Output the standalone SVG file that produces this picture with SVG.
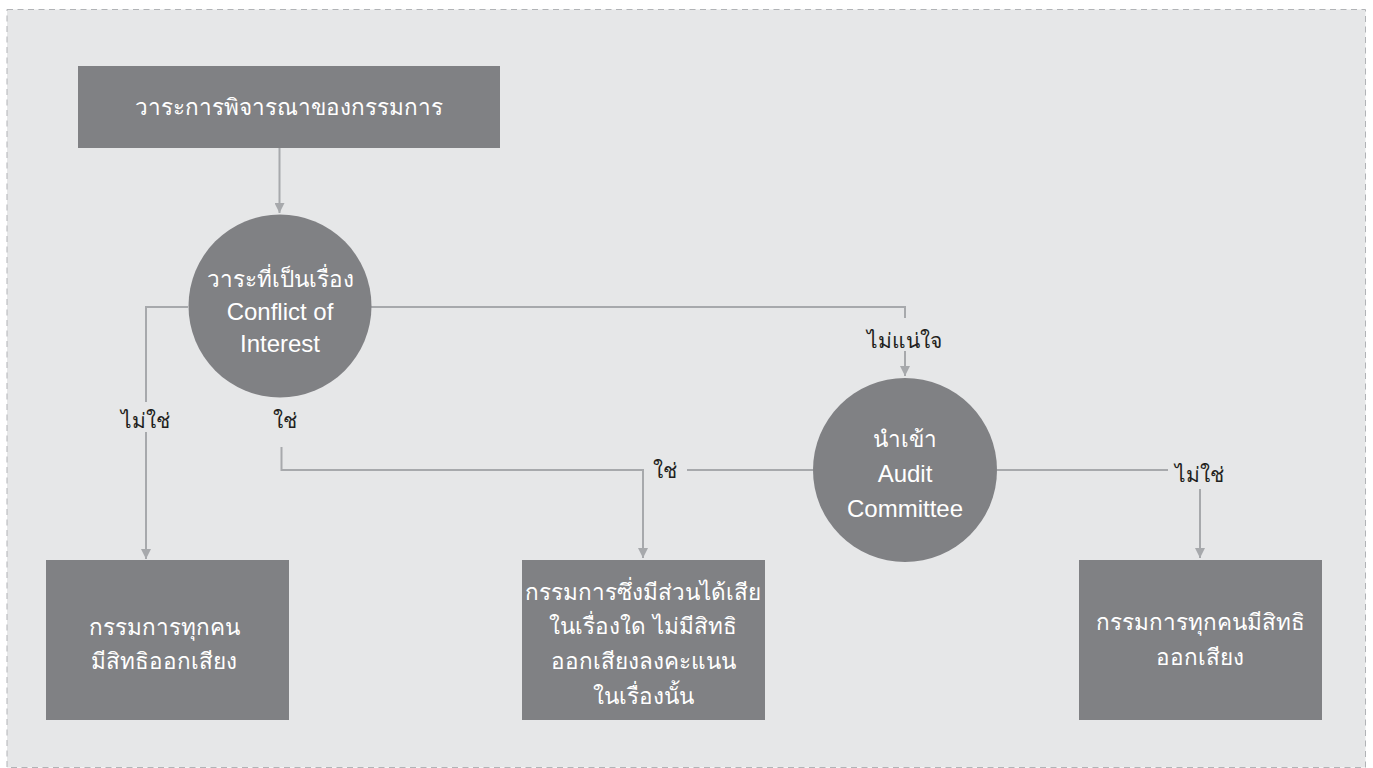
<svg xmlns="http://www.w3.org/2000/svg" width="1373" height="768" viewBox="0 0 1373 768">
<defs>
<style>
.box{fill:#808184;}
.t{font-family:"Liberation Sans","Noto Sans",sans-serif;font-size:22.5px;fill:#ffffff;text-anchor:middle;}
.en{font-size:24px;}
.lbl{font-family:"Liberation Sans","Noto Sans",sans-serif;font-size:21px;fill:#231f20;text-anchor:middle;}
.ln{fill:none;stroke:#a7a9ac;stroke-width:2;}
</style>
<marker id="ah" viewBox="0 0 10 10" refX="10" refY="5" markerWidth="10" markerHeight="10" markerUnits="userSpaceOnUse" orient="auto">
<path d="M0,0 L10,5 L0,10 z" fill="#a7a9ac"/>
</marker>
</defs>
<rect x="0" y="0" width="1373" height="768" fill="#ffffff"/>
<rect x="7" y="9.5" width="1358.5" height="758" fill="#e6e7e8" stroke="#b1b3b6" stroke-width="1" stroke-dasharray="6,4.5"/>
<g id="connectors">
<path class="ln" d="M279.5,138 L279.5,213" marker-end="url(#ah)"/>
<path class="ln" d="M188,307 L146,307 L146,402"/>
<path class="ln" d="M146,432 L146,559" marker-end="url(#ah)"/>
<path class="ln" d="M281.5,447 L281.5,470 L643,470 L643,558" marker-end="url(#ah)"/>
<path class="ln" d="M371,307 L905,307 L905,318"/>
<path class="ln" d="M905,351 L905,376" marker-end="url(#ah)"/>
<path class="ln" d="M813,470 L687,470"/>
<path class="ln" d="M997,470 L1168,470"/>
<path class="ln" d="M1200,489 L1200,558" marker-end="url(#ah)"/>
</g>
<g id="labels">
<text class="lbl" x="145" y="428">ไม่ใช่</text>
<text class="lbl" x="285" y="428">ใช่</text>
<text class="lbl" x="904" y="348">ไม่แน่ใจ</text>
<text class="lbl" x="665" y="478">ใช่</text>
<text class="lbl" x="1199" y="482">ไม่ใช่</text>
</g>
<g id="node-agenda">
<rect class="box" x="78" y="66" width="422" height="82"/>
<text class="t" x="289" y="115">วาระการพิจารณาของกรรมการ</text>
</g>
<g id="node-conflict">
<circle class="box" cx="280" cy="306" r="91.5"/>
<text class="t" x="280" y="287">วาระที่เป็นเรื่อง</text>
<text class="t en" x="280" y="320">Conflict of</text>
<text class="t en" x="280" y="352">Interest</text>
</g>
<g id="node-audit">
<circle class="box" cx="905" cy="470" r="92"/>
<text class="t" x="905" y="447">นำเข้า</text>
<text class="t en" x="905" y="482">Audit</text>
<text class="t en" x="905" y="517">Committee</text>
</g>
<g id="node-all-vote-left">
<rect class="box" x="46" y="560" width="243" height="160"/>
<text class="t" x="164" y="635">กรรมการทุกคน</text>
<text class="t" x="164" y="669">มีสิทธิออกเสียง</text>
</g>
<g id="node-no-vote">
<rect class="box" x="522" y="560" width="243" height="160"/>
<text class="t" x="643" y="600">กรรมการซึ่งมีส่วนได้เสีย</text>
<text class="t" x="643" y="634">ในเรื่องใด ไม่มีสิทธิ</text>
<text class="t" x="643" y="669">ออกเสียงลงคะแนน</text>
<text class="t" x="643" y="704">ในเรื่องนั้น</text>
</g>
<g id="node-all-vote-right">
<rect class="box" x="1079" y="560" width="243" height="160"/>
<text class="t" x="1200" y="630">กรรมการทุกคนมีสิทธิ</text>
<text class="t" x="1200" y="665">ออกเสียง</text>
</g>
</svg>
